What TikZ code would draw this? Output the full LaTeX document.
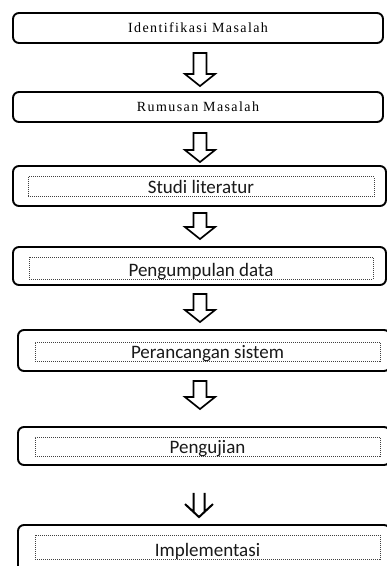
\documentclass[tikz,border=0pt]{standalone}
\usepackage{fontspec}
\setmainfont{Liberation Serif}
\newfontfamily\stepfont{Carlito}
\usetikzlibrary{calc}

\begin{document}
\begin{tikzpicture}[x=1pt,y=-1pt,
  outerbox/.style={draw=black, line width=1.9pt, rounded corners=6pt, inner sep=0pt, fill=white},
  serifbox/.style={outerbox, minimum width=370pt, minimum height=30pt,
    font=\fontsize{14}{16}\selectfont\addfontfeature{LetterSpace=10}},
  framebox/.style={draw=black!75, densely dotted, line width=1pt, inner sep=0pt},
  steptext/.style={font=\stepfont\fontsize{19}{22}\selectfont, text=black!90, inner sep=0pt, anchor=base},
  blockarrow/.style={draw=black, line width=1.7pt, fill=white, line join=miter,
    to path={let \p1=(\tikztostart), \p2=(\tikztotarget) in
      (\x1-6.5pt,\y1) -- (\x1+6.5pt,\y1) -- (\x1+6.5pt,\y2+12pt) -- (\x1+15pt,\y2+12pt)
      -- (\x1,\y2) -- (\x1-15pt,\y2+12pt) -- (\x1-6.5pt,\y2+12pt) -- cycle}},
  twinarrow/.style={draw=black, line width=2pt,
    to path={let \p1=(\tikztostart), \p2=(\tikztotarget) in
      (\x1-5.5pt,\y1) -- (\x1-5.5pt,\y2+5pt)
      (\x1+5.5pt,\y1) -- (\x1+5.5pt,\y2+5pt)
      (\x1-14pt,\y2+13pt) -- (\x1,\y2) -- (\x1+14pt,\y2+13pt)}}
]
\useasboundingbox (0,0) rectangle (387,566);
\clip (0,0) rectangle (387,566);

% axis of the arrows
\coordinate (ax) at (200,0);

% boxes
\node[serifbox] (b1) at (198,28) {Identifikasi Masalah};
\node[serifbox] (b2) at (198,107) {Rumusan Masalah};

\node[outerbox, minimum width=373pt, minimum height=40pt] (b3) at (199.5,186) {};
\node[framebox, minimum width=346pt, minimum height=20pt] (f3) at (201,186.5) {};
\node[steptext] (l3) at ($(f3.south)+(0,-3.5)$) {Studi literatur};

\node[outerbox, minimum width=373pt, minimum height=38pt] (b4) at (199.5,266) {};
\node[framebox, minimum width=344pt, minimum height=22pt] (f4) at (201,268) {};
\node[steptext] (l4) at ($(f4.south)+(0,-3.5)$) {Pengumpulan data};

\node[outerbox, minimum width=372pt, minimum height=41pt] (b5) at (204,350.5) {};
\node[framebox, minimum width=345pt, minimum height=19pt] (f5) at (207.5,351.5) {};
\node[steptext] (l5) at ($(f5.south)+(0,-3.5)$) {Perancangan sistem};

\node[outerbox, minimum width=372pt, minimum height=38pt] (b6) at (204,446) {};
\node[framebox, minimum width=345pt, minimum height=19pt] (f6) at (207.5,446.5) {};
\node[steptext] (l6) at ($(f6.south)+(0,-3.5)$) {Pengujian};

\node[outerbox, minimum width=372pt, minimum height=50pt] (b7) at (204,550) {};
\node[framebox, minimum width=345pt, minimum height=24pt] (f7) at (207.5,547) {};
\node[steptext] (l7) at ($(f7.south)+(0,-3.5)$) {Implementasi};

% connectors
\draw[blockarrow] ($(b1.south -| ax)+(0,9)$) to ($(b2.north -| ax)+(0,-5)$);
\draw[blockarrow] ($(b2.south -| ax)+(0,10)$) to ($(b3.north -| ax)+(0,-3)$);
\draw[blockarrow] ($(b3.south -| ax)+(0,6)$) to ($(b4.north -| ax)+(0,-7)$);
\draw[blockarrow] ($(b4.south -| ax)+(0,8)$) to ($(b5.north -| ax)+(0,-7)$);
\draw[blockarrow] ($(b5.south -| ax)+(0,9)$) to ($(b6.north -| ax)+(0,-17)$);
\draw[twinarrow] ($(b6.south -| ax)+(-1,27)$) to ($(b7.north -| ax)+(-1,-7)$);
\end{tikzpicture}
\end{document}
